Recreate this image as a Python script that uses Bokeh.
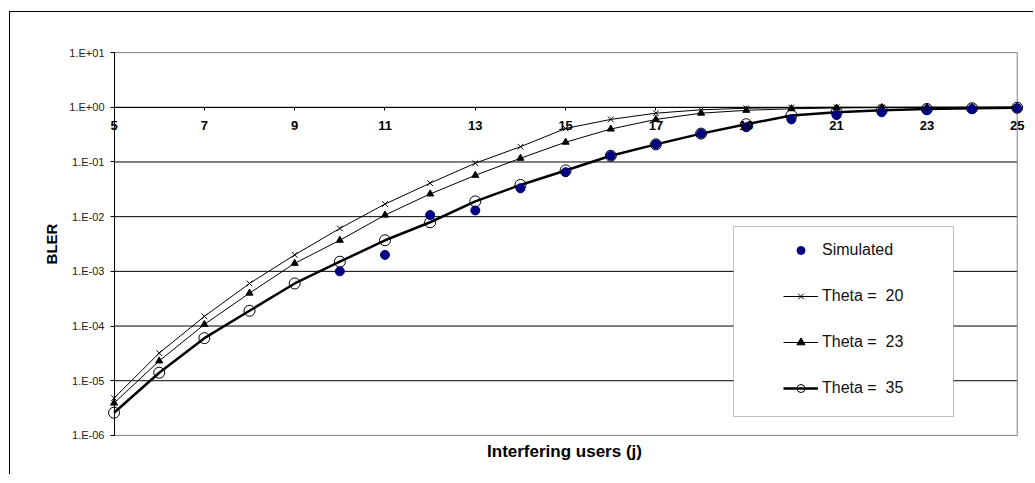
from bokeh.plotting import figure
from bokeh.models import (FixedTicker, CustomJSTickFormatter, Legend, Grid,
                          LegendItem, LinearAxis, LogAxis, BoxAnnotation, Range1d)
from bokeh.embed import file_html
from bokeh.resources import INLINE

# ---- data ----
users = list(range(5, 26))
theta20 = [4.8e-6, 3.2e-5, 1.5e-4, 6.0e-4, 2.0e-3, 6.1e-3, 1.7e-2, 4.1e-2, 9.5e-2, 0.19, 0.41,
           0.6, 0.78, 0.9, 0.96, 0.99, 1.0, 1.0, 1.0, 1.0, 1.0]
theta23 = [3.9e-6, 2.3e-5, 1.07e-4, 4.0e-4, 1.4e-3, 3.7e-3, 1.07e-2, 2.6e-2, 5.7e-2, 0.117, 0.23,
           0.4, 0.6, 0.78, 0.88, 0.94, 0.97, 0.99, 1.0, 1.0, 1.0]
theta35 = [2.6e-6, 1.4e-5, 6.0e-5, 1.9e-4, 6.0e-4, 1.5e-3, 3.7e-3, 7.9e-3, 1.9e-2, 3.8e-2, 7.0e-2,
           0.13, 0.21, 0.33, 0.49, 0.71, 0.81, 0.88, 0.93, 0.96, 0.98]
sim_users = list(range(10, 26))
simulated = [1.0e-3, 2.0e-3, 1.07e-2, 1.3e-2, 3.3e-2, 6.5e-2, 0.13, 0.21, 0.33, 0.43, 0.6,
             0.72, 0.81, 0.88, 0.93, 0.96]
x_tick_values = [5, 7, 9, 11, 13, 15, 17, 19, 21, 23, 25]
y_tick_values = [1e-6, 1e-5, 1e-4, 1e-3, 1e-2, 1e-1, 1e0, 1e1]

FONT = "Liberation Sans"
X0, X1 = x_tick_values[0], x_tick_values[-1]
Y0, Y1 = y_tick_values[0], y_tick_values[-1]

p = figure(width=1024, height=463, y_axis_type="log",
           x_range=Range1d(4.7, 25.25), y_range=Range1d(10 ** -6.02, 10 ** 1.02),
           output_backend="svg", toolbar_location=None,
           min_border_left=90, min_border_right=6, min_border_top=39, min_border_bottom=39)
p.margin = (11, 0, 0, 9)
p.styles = {"border-left": "1px solid #000", "border-top": "1px solid #000"}
p.background_fill_color = "white"
p.border_fill_color = "white"
p.outline_line_color = None
# drop the default grids; gridlines are drawn only between x = 5 and 25
p.center = [r for r in p.center if not isinstance(r, Grid)]

# y labels + title (normal left axis, no line/ticks)
ya = p.yaxis[0]
ya.ticker = FixedTicker(ticks=y_tick_values)
ya.formatter = CustomJSTickFormatter(code="""
const e = Math.round(Math.log10(tick));
const s = e < 0 ? '-' : '+';
const a = Math.abs(e);
return '1.E' + s + (a < 10 ? '0' : '') + a;
""")
ya.axis_line_color = None
ya.major_tick_line_color = None
ya.major_tick_out = 0
ya.major_tick_in = 0
ya.minor_tick_line_color = None
ya.major_label_text_font = FONT
ya.major_label_text_font_size = "11px"
ya.major_label_text_color = "#222222"
ya.major_label_standoff = -4
ya.axis_label = "BLER"
ya.axis_label_text_font = FONT
ya.axis_label_text_font_style = "bold"
ya.axis_label_text_font_size = "15px"
ya.axis_label_text_color = "black"
ya.axis_label_standoff = 6

# y axis line and ticks at x = 5
yline = LogAxis(fixed_location=X0, ticker=FixedTicker(ticks=y_tick_values), bounds=(Y0, Y1),
                axis_line_color="black", major_tick_line_color="black", major_tick_out=4,
                major_tick_in=0, minor_tick_line_color=None,
                major_label_text_font_size="0px", major_label_text_alpha=0)
p.add_layout(yline, "left")

# x axis title only
xa = p.xaxis[0]
xa.ticker = FixedTicker(ticks=[])
xa.axis_line_color = None
xa.major_tick_out = 0
xa.major_tick_in = 0
xa.minor_tick_line_color = None
xa.axis_label = "Interfering users (j)"
xa.axis_label_text_font = FONT
xa.axis_label_text_font_style = "bold"
xa.axis_label_text_font_size = "17px"
xa.axis_label_text_color = "black"
xa.axis_label_standoff = 5

# value axis crossing at BLER = 1
xcross = LinearAxis(fixed_location=1.0, ticker=FixedTicker(ticks=x_tick_values), bounds=(X0, X1),
                    axis_line_color="black", axis_line_width=1,
                    major_tick_line_color="black", major_tick_out=3, major_tick_in=0,
                    minor_tick_line_color=None, major_label_standoff=11,
                    major_label_text_font=FONT, major_label_text_font_style="bold",
                    major_label_text_font_size="13px", major_label_text_color="black")
p.add_layout(xcross, "below")

# gridlines and plot-area border
inner = y_tick_values[1:-1]
p.segment(x0=[X0] * len(inner), x1=[X1] * len(inner), y0=inner, y1=inner,
          line_color="black", line_width=1, level="underlay")
p.segment(x0=[X0, X0, X1], x1=[X1, X1, X1], y0=[Y0, Y1, Y0], y1=[Y0, Y1, Y1],
          line_color="#808080", line_width=1, level="underlay")

# series
l20 = p.line(users, theta20, line_color="black", line_width=1)
s20 = p.scatter(users, theta20, marker="x", size=8, line_color="black", line_width=1)
l23 = p.line(users, theta23, line_color="black", line_width=1)
s23 = p.scatter(users, theta23, marker="triangle", size=7, fill_color="black", line_color="black")
l35 = p.line(users, theta35, line_color="black", line_width=2.5)
s35 = p.scatter(users, theta35, marker="circle", size=11, fill_color=None, line_color="black",
                line_width=1)
ssim = p.scatter(sim_users, simulated, marker="circle", size=9, fill_color="#000080",
                 line_color="#000080")

# legend box
box = BoxAnnotation(left=722, right=942, top=213, bottom=403,
                    left_units="canvas", right_units="canvas", top_units="canvas",
                    bottom_units="canvas", fill_color="white", fill_alpha=1.0,
                    line_color="#303030", line_width=1, level="annotation")
p.add_layout(box)

legend = Legend(items=[
    LegendItem(label="Simulated", renderers=[ssim]),
    LegendItem(label="Theta =  20", renderers=[l20, s20]),
    LegendItem(label="Theta =  23", renderers=[l23, s23]),
    LegendItem(label="Theta =  35", renderers=[l35, s35]),
], location=(683, 38), padding=0, spacing=26, glyph_width=35, glyph_height=20,
    label_height=20, label_standoff=4, border_line_color=None, background_fill_alpha=0,
    label_text_font=FONT, label_text_font_size="16px", label_text_color="#111111")
p.add_layout(legend)

open("out.html", "w").write(file_html(p, INLINE))
